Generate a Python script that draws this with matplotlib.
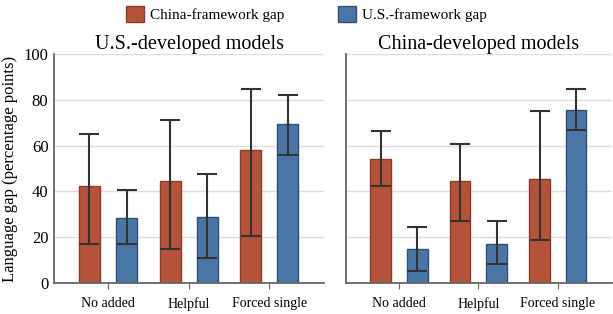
import matplotlib.pyplot as plt
import numpy as np
from matplotlib.patches import Patch

plt.rcParams['font.family'] = ['Liberation Serif', 'DejaVu Serif']

conditions = ['No added', 'Helpful', 'Forced single']
panels = ['U.S.-developed models', 'China-developed models']

# U.S.-developed models
us_china_gap = [42.5, 44.5, 58.0]
us_china_lo = [17.0, 15.0, 20.5]
us_china_hi = [65.0, 71.0, 84.5]
us_us_gap = [28.5, 29.0, 69.5]
us_us_lo = [17.0, 11.0, 56.0]
us_us_hi = [40.5, 47.5, 82.0]

# China-developed models
cn_china_gap = [54.0, 44.4, 45.6]
cn_china_lo = [42.4, 27.1, 18.8]
cn_china_hi = [66.4, 60.6, 75.1]
cn_us_gap = [14.7, 16.9, 75.5]
cn_us_lo = [5.4, 8.2, 66.8]
cn_us_hi = [24.3, 27.1, 84.6]

red, red_edge = '#B5533A', '#8A3A28'
blue, blue_edge = '#4A76A6', '#2E4F7C'

fig = plt.figure(figsize=(6.13, 3.14), dpi=100)
ax1 = fig.add_axes([0.088, 0.099, 0.441, 0.729])
ax2 = fig.add_axes([0.564, 0.099, 0.434, 0.729], sharey=ax1)

x = np.arange(len(conditions))
w = 0.26
off = 0.23

data = [
    (us_china_gap, us_china_lo, us_china_hi, us_us_gap, us_us_lo, us_us_hi),
    (cn_china_gap, cn_china_lo, cn_china_hi, cn_us_gap, cn_us_lo, cn_us_hi),
]

for ax, title, (cg, cl, ch, ug, ul, uh) in zip([ax1, ax2], panels, data):
    cg, cl, ch = map(np.array, (cg, cl, ch))
    ug, ul, uh = map(np.array, (ug, ul, uh))
    ax.bar(x - off, cg, w, color=red, edgecolor=red_edge, linewidth=1, zorder=2)
    ax.bar(x + off, ug, w, color=blue, edgecolor=blue_edge, linewidth=1, zorder=2)
    ax.errorbar(x - off, cg, yerr=[cg - cl, ch - cg], fmt='none', ecolor='#333333',
                elinewidth=1.5, capsize=7, capthick=1.5, zorder=3)
    ax.errorbar(x + off, ug, yerr=[ug - ul, uh - ug], fmt='none', ecolor='#333333',
                elinewidth=1.5, capsize=7, capthick=1.5, zorder=3)
    ax.set_xlim(-0.67, 2.68)
    ax.set_ylim(0, 100)
    ax.set_xticks(x)
    ax.set_xticklabels(conditions, fontsize=10)
    ax.set_yticks([0, 20, 40, 60, 80, 100])
    ax.yaxis.grid(True, color='#DDDDDD', linewidth=1, zorder=0)
    ax.set_axisbelow(True)
    ax.set_title(title, fontsize=14.5, pad=2)
    for s in ['top', 'right']:
        ax.spines[s].set_visible(False)
    for s in ['left', 'bottom']:
        ax.spines[s].set_color('#666666')
        ax.spines[s].set_linewidth(1.3)
    ax.tick_params(axis='x', length=4, color='#666666', pad=6)
    ax.tick_params(axis='y', length=0, labelsize=12, pad=4)

ax1.set_ylabel('Language gap (percentage points)', fontsize=12, labelpad=4)
ax2.tick_params(axis='y', labelleft=False)

handles = [Patch(facecolor=red, edgecolor=red_edge, label='China-framework gap'),
           Patch(facecolor=blue, edgecolor=blue_edge, label='U.S.-framework gap')]
fig.legend(handles=handles, loc='center', bbox_to_anchor=(0.5, 0.955), ncol=2,
           frameon=False, fontsize=11, handlelength=1.2, handleheight=1.2,
           columnspacing=3.5, handletextpad=0.4)

fig.savefig('out.png', dpi=100)
